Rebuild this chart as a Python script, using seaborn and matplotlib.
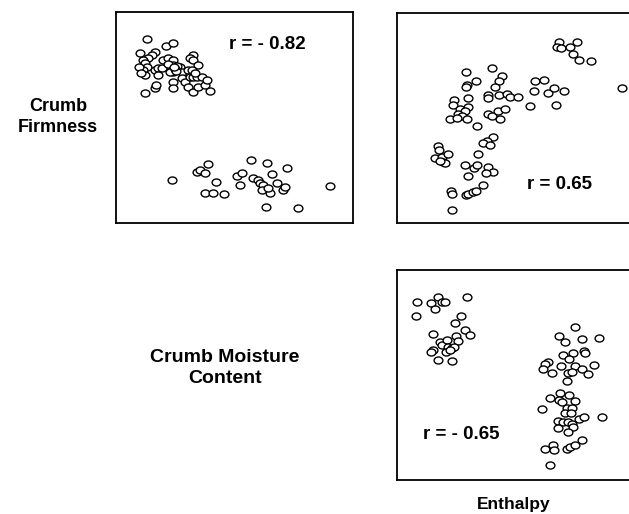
import matplotlib
matplotlib.use("Agg")
import matplotlib.pyplot as plt
import numpy as np
import pandas as pd
import seaborn as sns
from matplotlib.path import Path
from matplotlib.transforms import Affine2D

# ---------------- data (arbitrary units) ----------------
# Panel 1: Crumb Moisture Content (x) vs Crumb Firmness (y)
moist_p1 = [31, 50, 57, 39, 36, 32, 27, 29, 31, 27, 29, 39, 42, 46, 42, 47, 52, 57, 57, 56,
            59, 61, 57, 64, 66, 57, 57, 66, 69, 72, 77, 74, 77, 82, 76, 74, 77, 81, 86, 79,
            72, 77, 82, 89, 94, 91, 29, 39, 40, 24, 23, 25, 61, 54, 52, 59, 60, 58,
            56, 81, 84, 89, 92, 100, 89, 97, 108, 121, 126, 124, 135, 137, 142, 144, 147, 146,
            151, 156, 154, 161, 167, 169, 171, 152, 150, 182, 214]
firm_p1 = [184, 177, 180, 171, 168, 165, 163, 160, 156, 153, 148, 153, 155, 155, 148, 163, 165,
           163, 158, 155, 153, 155, 151, 156, 151, 141, 135, 145, 141, 153, 168, 165, 163, 158,
           153, 146, 146, 146, 146, 150, 136, 131, 136, 138, 132, 143, 130, 135, 138, 170, 156,
           150, 157, 151, 159, 154, 152, 156,
           43, 51, 53, 50, 59, 41, 30, 30, 29, 47, 50, 38, 63, 45, 43, 40, 38, 33,
           60, 49, 30, 40, 33, 36, 55, 35, 16, 15, 37]

# Panel 2: Enthalpy (x) vs Crumb Firmness (y)
enth_p2 = [162, 180, 160, 164, 173, 176, 182, 194, 225, 138, 147, 137, 151, 157, 167, 133, 159,
           69, 95, 105, 102, 79, 70, 69, 98, 91, 91, 102, 110, 113, 121, 57, 56, 71, 71, 63,
           68, 61, 65, 53, 60, 70, 91, 95, 101, 108, 103, 80, 96, 90, 86, 93, 81, 41, 42, 38,
           45, 51, 46, 48, 43, 68, 77, 80, 91, 96, 89, 71, 54, 55, 69, 71, 76, 79, 86, 55]
firm_p2 = [181, 181, 176, 175, 176, 169, 163, 162, 135, 142, 143, 132, 130, 135, 132, 117, 118,
           151, 155, 147, 142, 142, 138, 136, 136, 128, 125, 128, 129, 126, 126, 123, 118, 125,
           116, 114, 112, 109, 107, 104, 105, 104, 109, 107, 112, 114, 104, 97, 86, 82, 80, 78,
           69, 77, 73, 65, 66, 69, 61, 60, 62, 58, 55, 58, 56, 51, 50, 47, 32, 29, 28, 29, 31,
           32, 38, 13]

# Panel 3: Enthalpy (x) vs Crumb Moisture Content (y)
enth_p3 = [20, 19, 34, 41, 45, 48, 38, 70, 64, 58, 68, 73, 59, 61, 36, 43, 45, 50, 51, 55, 57,
           36, 34, 49, 53, 41, 55,
           178, 162, 168, 185, 202, 187, 188, 176, 166, 172, 151, 148, 164, 178, 197, 146, 155,
           171, 175, 185, 191, 170, 163, 172, 153, 162, 165, 178, 170, 175, 145, 168, 174, 182,
           187, 205, 161, 166, 171, 175, 176, 161, 171, 148, 156, 157, 170, 173, 178, 185, 153]
moist_p3 = [178, 164, 177, 183, 178, 178, 171, 183, 164, 157, 150, 145, 144, 139, 146, 138, 135,
            140, 133, 132, 133, 130, 128, 128, 130, 120, 119,
            153, 144, 138, 141, 142, 129, 127, 127, 125, 121, 118, 116, 114, 114, 115, 111, 107,
            107, 108, 111, 106, 99, 87, 85, 82, 80, 78, 79, 72, 72, 71, 67, 67, 61, 63, 63, 59,
            58, 58, 56, 53, 52, 48, 31, 35, 30, 31, 33, 35, 40, 15]

r_labels = ["r = - 0.82", "r = 0.65", "r = - 0.65"]
row_label_1 = "Crumb\nFirmness"
row_label_2 = "Crumb Moisture\nContent"
col_label = "Enthalpy"

# ---------------- figure ----------------
sns.set_theme(style="white")
plt.rcParams["font.family"] = ["Liberation Sans", "DejaVu Sans"]
plt.rcParams["text.color"] = "black"

W, H = 629, 514
fig = plt.figure(figsize=(W / 100, H / 100), dpi=100)
fig.patch.set_facecolor("white")

def px_axes(left, top, width, height):
    return fig.add_axes([left / W, 1 - (top + height) / H, width / W, height / H])

ax1 = px_axes(116, 12, 237, 211)
ax2 = px_axes(397, 13, 237, 210)
ax3 = px_axes(397, 270, 237, 210)

ellipse = Path.unit_circle().transformed(Affine2D().scale(1.0, 0.8))

panels = [
    (ax1, moist_p1, firm_p1, (0, 237), (0, 211), r_labels[0], (0.637, 0.844)),
    (ax2, enth_p2, firm_p2, (0, 237), (0, 210), r_labels[1], (0.684, 0.181)),
    (ax3, enth_p3, moist_p3, (0, 237), (0, 210), r_labels[2], (0.27, 0.219)),
]

for ax, xs, ys, xl, yl, rl, rpos in panels:
    df = pd.DataFrame({"x": xs, "y": ys})
    sns.scatterplot(data=df, x="x", y="y", ax=ax, marker=ellipse, s=40,
                    facecolor="white", edgecolor="black", linewidth=1.0, legend=False)
    ax.set_xlim(*xl)
    ax.set_ylim(*yl)
    ax.set_xticks([])
    ax.set_yticks([])
    ax.set_xlabel("")
    ax.set_ylabel("")
    for sp in ax.spines.values():
        sp.set_visible(True)
        sp.set_color("black")
        sp.set_linewidth(1.3)
    ax.text(rpos[0], rpos[1], rl, transform=ax.transAxes, ha="center", va="center",
            fontsize=13.5, fontweight="bold", color="black")

fig.text(58 / W, 1 - 117 / H, row_label_1, ha="center", va="center", fontsize=13,
         fontweight="bold", linespacing=1.35, color="black")
fig.text(225 / W, 1 - 368 / H, row_label_2, ha="center", va="center", fontsize=14,
         fontweight="bold", linespacing=1.3, color="black")
fig.text(514 / W, 1 - 505 / H, col_label, ha="center", va="center", fontsize=12.5,
         fontweight="bold", color="black")

fig.savefig("out.png", dpi=100, facecolor="white")
